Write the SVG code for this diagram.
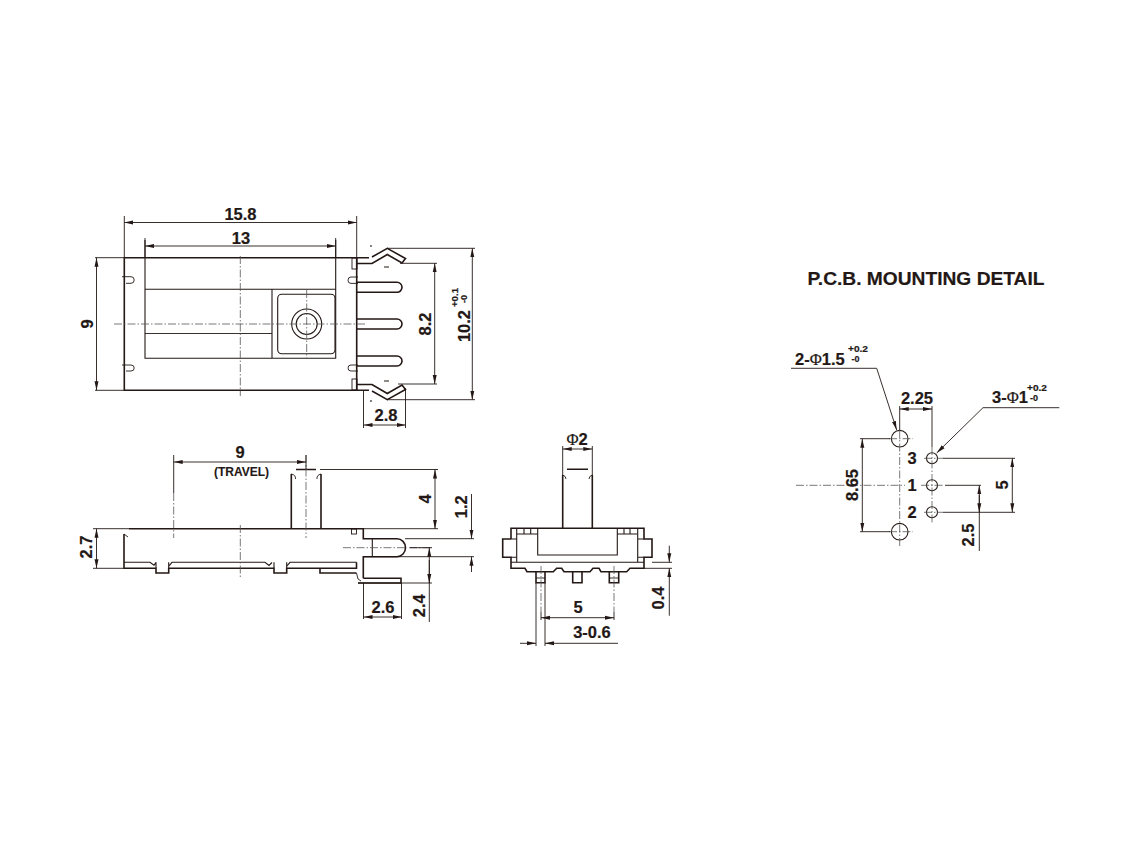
<svg xmlns="http://www.w3.org/2000/svg" width="1140" height="855" viewBox="0 0 1140 855">
<style>
text{font-family:"Liberation Sans",Arial,sans-serif;font-weight:700;font-size:16.5px;fill:#231815;stroke:#231815;stroke-width:.2;text-anchor:middle}
.tol{font-size:9px}
.st{text-anchor:start}
.phi{font-weight:400;font-family:"Liberation Serif","Liberation Sans",serif}
path,line,rect,circle,polyline{fill:none;stroke:#231815;stroke-linejoin:miter}
.k{stroke-width:1.6}
.m{stroke-width:1.1}
.t{stroke-width:.9}
.c{stroke-width:.8;stroke:#555;stroke-dasharray:8 2 1.5 2}
.d{stroke-width:.9;marker-start:url(#a);marker-end:url(#a)}
.e{stroke-width:.9;marker-end:url(#a)}
</style>
<defs>
<marker id="a" markerUnits="userSpaceOnUse" viewBox="0 0 9 5" refX="9" refY="2.5" markerWidth="9" markerHeight="5" orient="auto-start-reverse"><path d="M0 .5L9 2.500L0 4.500Z" style="fill:#231815;stroke:none"/></marker>
</defs>
<rect width="1140" height="855" style="fill:#fff;stroke:none"/>

<g id="top-view">
<path class="k" d="M369 257.700H124.300V390.300H369M356.700 257.700V390.300"/>
<path class="m" d="M145 240V358.300H335.700V240M145 289.300H335.700M272 289.300V358.300"/>
<path class="t" d="M145 333.500H272"/>
<rect class="m" x="277.700" y="294.300" width="57.300" height="59.400" rx="4"/>
<circle class="m" cx="306.700" cy="324" r="15"/>
<circle class="m" cx="306.700" cy="324" r="10.500"/>
<path class="c" d="M114 324H366M240.300 256V396M306.700 290V358"/>
<path class="t" d="M122 276.700H131a3.200 3.300 0 0 1 0 6.600H126M122 365H131a3.200 3 0 0 1 0 6H126"/>
<path class="t" d="M358 277H351a3 3.200 0 0 0 0 6.400H358M358 365H351a3 3 0 0 0 0 6H358"/>
<rect class="t" x="352" y="258" width="5" height="11"/>
<rect class="t" x="352" y="379" width="5" height="11"/>
<path class="k" d="M357 263.500H372L387.300 254.500L402 263L405.500 258.500L387.300 248.300L372 257"/>
<path class="k" d="M357 384.500H372L387.300 393.500L402 385L405.500 389.500L387.300 399.700L372 391"/>
<path class="k" d="M357 282.300H397a5 5 0 0 1 0 10H357M357 319H397a5 5 0 0 1 0 10H357M357 356H397a5 5 0 0 1 0 10H357"/>
<path class="m" d="M371 245V247M384 267H389M384 381H389M371 400V402"/>
</g>

<g id="side-view">
<path class="k" d="M129 528.700H363.300V538.700H397a8.500 9 0 0 1 0 18H363.300V578.300"/>
<path class="t" d="M93 528.700H129"/>
<path class="k" d="M124 534V568.300H156V573H168.700V568.300H274V573H286.700V568.300H356.500V562.300"/>
<path class="t" d="M124 534L128 537"/>
<path class="m" d="M124 562.300H150l4 3 2-3M156 562.300V568M168.700 562.300V568M169 566l3-3.700H265l4 3.200 3-3M274 562.300V568M286.700 562.300V568M287 566l3-3.700H356.500"/>
<path class="k" d="M320 568.300V573H356.500"/>
<path class="t" d="M356.500 573L358 579L361 581"/>
<path class="k" d="M363.300 578.300H401V583H358"/>
<rect class="t" x="351.500" y="529" width="5" height="5"/>
<path class="m" d="M372.300 538.700V556.700"/>
<path class="k" d="M291.300 528.700V474M321 528.700V474M296 469.500H316"/>
<path class="t" d="M291.300 474Q296 475 295.500 479M321 474Q316.500 475 317 479"/>
<path class="c" d="M240.300 525V577M306 455V538M173.700 493V538M343 547.700H405M409 547.700H432"/>
</g>

<g id="front-view">
<path class="k" d="M562.700 528.300V475M592.300 528.300V475M567 469.300H588"/>
<path class="t" d="M562.700 475Q566 476 566 479M592.300 475Q589 476 589 479"/>
<path class="k" d="M511 539V528.300H644V539H652V557.300H644V568.300H630L626.700 571.700H601L599 568.300H593L590 571.700H564L561.700 568.300H556.700L553.300 571.700H527L525 568.300H511V557.300H502.700V539H511"/>
<path class="m" d="M516.700 528.300V539H511M516.700 557.300H511M516.700 557.300V562.300M511 562.300H644M637.700 528.300V539H644M637.700 557.300H644M637.700 557.300V562.300M516.700 539V557.300M637.700 539V557.300"/>
<path class="m" d="M537.700 528.300V555H617.300V528.300M516.700 534H537.700M617.300 534H637.700M524 528.300V534M530.700 528.300V534M624 528.300V534M630 528.300V534"/>
<path class="k" d="M536 571.700V582.700H545V571.700M572.700 571.700V582.700H582V571.700M609.300 571.700V582.700H618.700V571.700"/>
<path class="t" d="M536 578H545M609.300 578H618.700"/>
<path class="c" d="M541 566V612M614 566V612"/>
</g>

<g id="pcb-detail">
<circle class="m" cx="899.700" cy="438.700" r="8.300"/>
<circle class="m" cx="899.700" cy="531.700" r="8.300"/>
<circle class="m" cx="932" cy="458.300" r="5.500"/>
<circle class="m" cx="932" cy="485.300" r="5.500"/>
<circle class="m" cx="932" cy="512.300" r="5.500"/>
<path class="c" d="M899.700 430V548M932 447V523M796 485.300H905M921 485.300H943M889 438.700H913M889 531.700H913M924 458.300H943M924 512.300H943"/>
</g>

<g id="connectors">
<path class="t" d="M124.300 216V258M356.700 216V258M145 238V258M335.700 238V258M95 257.700H124M95 390.300H124"/>
<line class="d" x1="124.300" y1="222.500" x2="356.700" y2="222.500"/>
<line class="d" x1="145" y1="246" x2="335.700" y2="246"/>
<line class="d" x1="96.500" y1="257.700" x2="96.500" y2="390.300"/>
<path class="t" d="M400 263.300H437M398 384H437M387 248.300H475M387 399.700H475M363.500 391V428M405.500 388V428"/>
<line class="d" x1="434.700" y1="263.300" x2="434.700" y2="384"/>
<line class="d" x1="472.300" y1="248.300" x2="472.300" y2="399.700"/>
<line class="d" x1="363.500" y1="425" x2="405.500" y2="425"/>

<path class="t" d="M173.700 455V493M306 455V469M320 469.500H438M363 528.700H438M405 538.700H474M363 556.700H474M358 583H432M363.500 583V619M401.500 583V619M410 547.700H432"/>
<line class="d" x1="173.700" y1="462" x2="306" y2="462"/>
<line class="d" x1="435" y1="469.500" x2="435" y2="528.700"/>
<line class="e" x1="471.500" y1="494" x2="471.500" y2="538.700"/>
<line class="e" x1="471.500" y1="572" x2="471.500" y2="556.700"/>
<line class="e" x1="429.300" y1="622" x2="429.300" y2="547.700"/>
<line class="e" x1="429.300" y1="560" x2="429.300" y2="583"/>
<line class="d" x1="363.500" y1="617" x2="401.500" y2="617"/>
<line class="d" x1="96.500" y1="528.700" x2="96.500" y2="568.300"/>
<path class="t" d="M93 568.300H124"/>

<path class="t" d="M562.700 446V475M592.300 446V475M536 583V646M545 583V646M541 612V620M614 612V620M652 562.300H672M644 568.300H672"/>
<line class="d" x1="562.700" y1="449" x2="592.300" y2="449"/>
<line class="d" x1="541" y1="617.700" x2="614" y2="617.700"/>
<line class="e" x1="520" y1="643.300" x2="536" y2="643.300"/>
<line class="e" x1="618" y1="643.300" x2="545" y2="643.300"/>
<line class="e" x1="669.300" y1="545.700" x2="669.300" y2="562.300"/>
<line class="e" x1="669.300" y1="615.700" x2="669.300" y2="568.300"/>

<path class="t" d="M860 438.700H890M860 531.700H890M899.700 406V430M932 406V447M943 458.300H1015M943 512.300H1015M945 485.300H981"/>
<line class="d" x1="862.300" y1="438.700" x2="862.300" y2="531.700"/>
<line class="d" x1="899.700" y1="409" x2="932" y2="409"/>
<line class="d" x1="1012.300" y1="458.300" x2="1012.300" y2="512.300"/>
<line class="e" x1="979.300" y1="551" x2="979.300" y2="485.300"/>
<line class="e" x1="979.300" y1="495" x2="979.300" y2="512.300"/>
<polyline class="e" points="791,368.300 876.700,368.300 896.700,430"/>
<polyline class="e" points="1059.300,407.700 983,407.700 936.700,453"/>
</g>

<g id="labels">
<text x="240.500" y="220">15.8</text>
<text x="241" y="244">13</text>
<text transform="rotate(-90 92.700 324)" x="92.700" y="324">9</text>
<text transform="rotate(-90 431 324)" x="431" y="324">8.2</text>
<text transform="rotate(-90 470 326)" x="470" y="326">10.2</text>
<text class="tol" transform="rotate(-90 458.300 297.500)" x="458.300" y="297.500" textLength="19" lengthAdjust="spacingAndGlyphs">+0.1</text>
<text class="tol" transform="rotate(-90 467 299)" x="467" y="299">-0</text>
<text x="386" y="421">2.8</text>
<text x="240" y="458">9</text>
<text x="241.500" y="476" style="font-size:12px;stroke-width:.1">(TRAVEL)</text>
<text transform="rotate(-90 91.700 547)" x="91.700" y="547">2.7</text>
<text transform="rotate(-90 430.700 499)" x="430.700" y="499">4</text>
<text transform="rotate(-90 467.300 506.700)" x="467.300" y="506.700">1.2</text>
<text transform="rotate(-90 425 605.700)" x="425" y="605.700">2.4</text>
<text x="383" y="612.500">2.6</text>
<text x="577" y="445"><tspan class="phi">Φ</tspan>2</text>
<text x="578" y="613">5</text>
<text x="592" y="638">3-0.6</text>
<text transform="rotate(-90 664 598)" x="664" y="598">0.4</text>
<text x="926" y="285" style="font-size:19.200px">P.C.B. MOUNTING DETAIL</text>
<text class="st" x="795" y="365"><tspan>2-</tspan><tspan class="phi">Φ</tspan><tspan>1.5</tspan></text>
<text class="tol" x="858" y="352" textLength="20" lengthAdjust="spacingAndGlyphs">+0.2</text>
<text class="tol" x="855.500" y="362">-0</text>
<text x="917" y="404">2.25</text>
<text class="st" x="992" y="403"><tspan>3-</tspan><tspan class="phi">Φ</tspan><tspan>1</tspan></text>
<text class="tol" x="1037" y="391" textLength="20" lengthAdjust="spacingAndGlyphs">+0.2</text>
<text class="tol" x="1034" y="401">-0</text>
<text x="912" y="464">3</text>
<text x="912" y="491">1</text>
<text x="912" y="518">2</text>
<text transform="rotate(-90 858.300 485)" x="858.300" y="485">8.65</text>
<text transform="rotate(-90 1008.300 485)" x="1008.300" y="485">5</text>
<text transform="rotate(-90 974 535)" x="974" y="535">2.5</text>
</g>
</svg>
